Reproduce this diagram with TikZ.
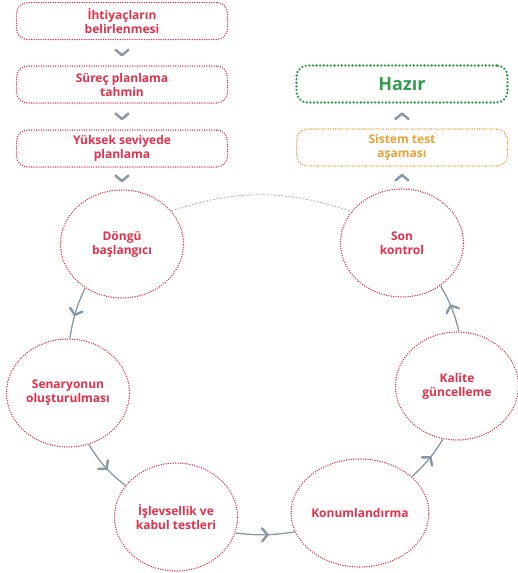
\documentclass[tikz,border=0pt]{standalone}
\usepackage{fontspec}
\setmainfont{Open Sans}
\usetikzlibrary{shapes.geometric,decorations.markings}
\definecolor{cred}{HTML}{E5304B}
\definecolor{corange}{HTML}{EFA035}
\definecolor{cgreen}{HTML}{2F9D4B}
\definecolor{cgray}{HTML}{8797A6}
\definecolor{carc}{HTML}{AEB6BE}
\tikzset{
  dotline/.style={line width=1.5pt, line cap=round, dash pattern=on 0pt off 2.4pt},
  boxstep/.style={draw=cred, dotline, rounded corners=11pt, minimum width=211pt, minimum height=37pt,
    text=cred, font=\bfseries\fontsize{12}{14}\selectfont, align=center, inner sep=0pt},
  orangebox/.style={boxstep, draw=corange, text=corange},
  greenbox/.style={boxstep, draw=cgreen, text=cgreen, line width=2.6pt, dash pattern=on 0pt off 3.6pt,
    font=\bfseries\fontsize{18}{20}\selectfont},
  phase/.style={ellipse, draw=cred, dotline, minimum width=123pt, minimum height=108pt,
    text=cred, font=\bfseries\fontsize{12}{14}\selectfont, align=center, inner sep=0pt},
  chevmark/.style={decoration={markings, mark=at position #1 with {
      \draw[cgray, line width=2.4pt, line cap=round, line join=round, solid] (-3pt,6.5pt) -- (2.5pt,0pt) -- (-3pt,-6.5pt);}}, decorate},
  chevmark/.default=0.5,
  link/.style={draw=cgray, line width=1.3pt, postaction={chevmark}},
  gap/.style={postaction={chevmark}},
}
\begin{document}
\begin{tikzpicture}[x=1pt,y=-1pt]
\useasboundingbox (0,0) rectangle (518,573);
% left column
\node[boxstep] (b1) at (122,21) {İhtiyaçların\\belirlenmesi};
\node[boxstep] (b2) at (122,84.5) {Süreç planlama\\tahmin};
\node[boxstep] (b3) at (122,148.5) {Yüksek seviyede\\planlama};
% right column
\node[greenbox] (hz) at (402,84) {Hazır};
\node[orangebox] (st) at (402,147.5) {Sistem test\\aşaması};
% cycle
\node[phase] (d) at (122,244) {Döngü\\başlangıcı};
\node[phase] (sk) at (402,243) {Son\\kontrol};
\node[phase] (sn) at (68,393) {Senaryonun\\oluşturulması};
\node[phase] (is) at (176,517) {İşlevsellik ve\\kabul testleri};
\node[phase] (ko) at (360,513) {Konumlandırma};
\node[phase] (ka) at (457,386) {Kalite\\güncelleme};
% chevrons between boxes
\path[gap] (b1.south) -- (b2.north);
\path[gap] (b2.south) -- (b3.north);
\path[gap] (b3.south) -- (d.north);
\path[gap] (sk.north) -- (st.south);
\path[gap] (st.north) -- (hz.south);
% dashed arc
\draw[carc, line width=0.8pt, dash pattern=on 2pt off 1.6pt] (d.34) to[bend left=18] (sk.148);
% connectors
\draw[link] (d.230) to[bend right=8] (sn.88);
\draw[link] (sn.292) to[bend right=10] (is.148);
\draw[link] (is.345) to[bend right=8] (ko.196);
\draw[link] (ko.35) to[bend right=8] (ka.255);
\draw[link] (ka.88) to[bend right=8] (sk.312);
\end{tikzpicture}
\end{document}
